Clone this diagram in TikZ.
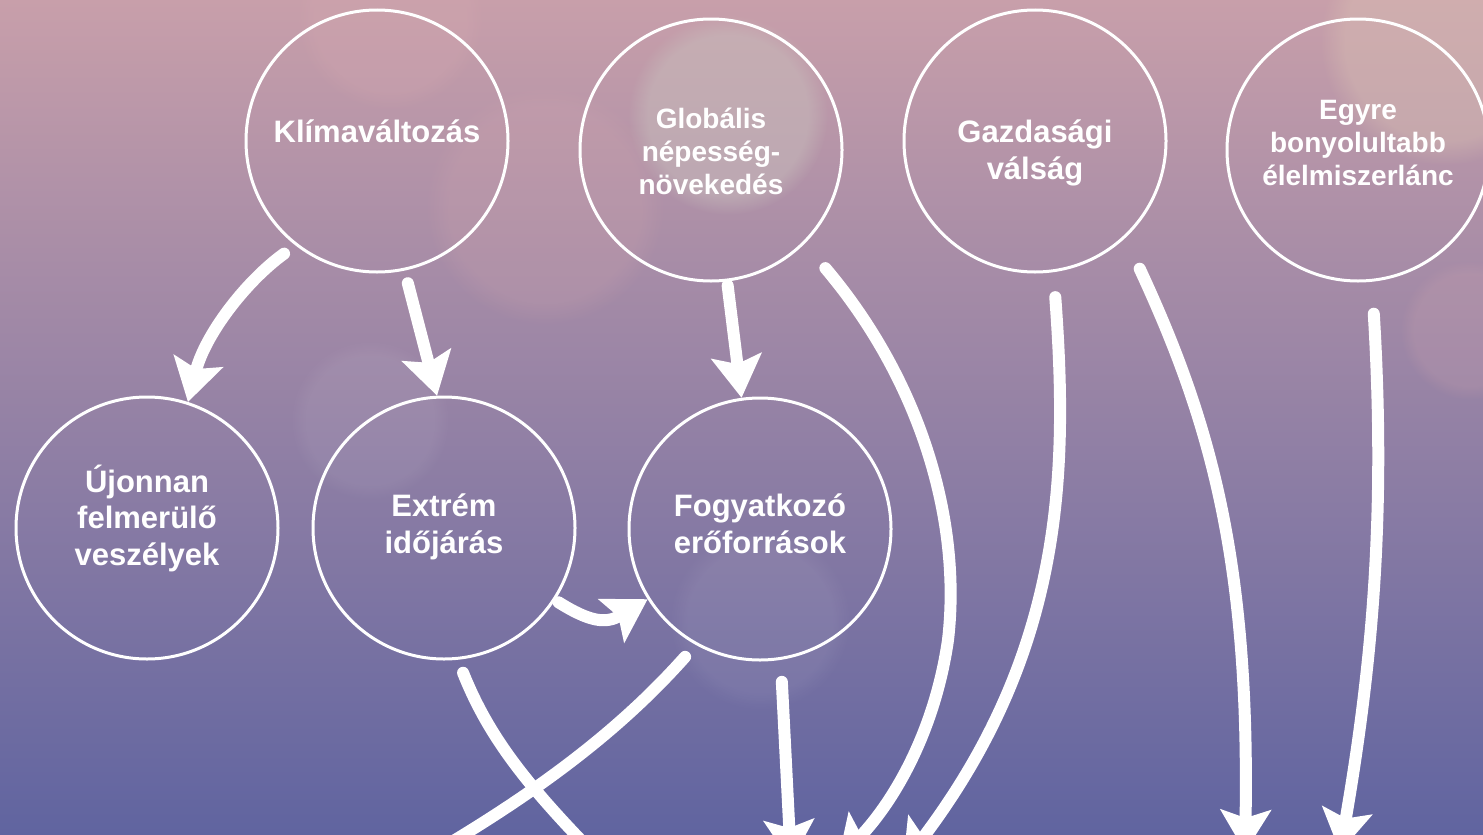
\documentclass[tikz,border=0pt]{standalone}
\usepackage{fontspec}
\setmainfont{Liberation Sans}
\usetikzlibrary{arrows.meta,fadings}
\definecolor{bgtop}{HTML}{C89FAA}
\definecolor{bgmid}{HTML}{A07EA4}
\definecolor{bgbot}{HTML}{6064A0}
\definecolor{bokehA}{HTML}{C8BEBC}
\definecolor{bokehB}{HTML}{D4A8B0}
\definecolor{bokehC}{HTML}{DCC4B4}
\begin{document}
\begin{tikzpicture}[x=0.5pt,y=-0.5pt,
  circ/.style={circle,draw=white,line width=1.5pt,minimum size=131pt,inner sep=0pt},
  lbl/.style={text=white,font=\bfseries\fontsize{15.5}{18.25}\selectfont,align=center,inner sep=0pt},
  lbls/.style={text=white,font=\bfseries\fontsize{14}{16.5}\selectfont,align=center,inner sep=0pt},
  arr/.style={draw=white,line width=6pt,line cap=round,-{Stealth[length=21pt,width=25pt,inset=4pt]}},
  plain/.style={draw=white,line width=6pt,line cap=round},
  bokeh/.style={path fading=circle with fuzzy edge 20 percent}]
\useasboundingbox (0,0) rectangle (1483,835);
\clip (0,0) rectangle (1483,835);
\shade[top color=bgtop,middle color=bgmid,bottom color=bgbot] (0,0) rectangle (1483,835);
% bokeh
\fill[bokeh,bokehA,opacity=0.5] (728,115) circle[radius=100];
\fill[bokeh,bokehB,opacity=0.22] (545,205) circle[radius=120];
\fill[bokeh,bokehC,opacity=0.4] (1445,40) circle[radius=125];
\fill[bokeh,bokehB,opacity=0.3] (390,15) circle[radius=95];
\fill[bokeh,white,opacity=0.06] (370,420) circle[radius=80];
\fill[bokeh,white,opacity=0.06] (760,620) circle[radius=90];
\fill[bokeh,bokehB,opacity=0.2] (1470,330) circle[radius=70];
% nodes
\node[circ] (K) at (377,141) {};
\node[circ] (G) at (711,150) {};
\node[circ] (Gz) at (1035,141) {};
\node[circ] (E) at (1358,150) {};
\node[circ] (U) at (147,528) {};
\node[circ] (X) at (444,528) {};
\node[circ] (F) at (760,529) {};
\node[lbl] (Kt) at (377,131) {Klímaváltozás};
\node[lbls] (Gt) at (711,151) {Globális\\népesség-\\növekedés};
\node[lbl] (Gzt) at (1035,153) {Gazdasági\\válság};
\node[lbls] (Et) at (1358,143) {Egyre\\bonyolultabb\\élelmiszerlánc};
\node[lbl] (Ut) at (147,518) {Újonnan\\felmerülő\\veszélyek};
\node[lbl] (Xt) at (444,527) {Extrém\\időjárás};
\node[lbl] (Ft) at (760,524) {Fogyatkozó\\erőforrások};
% free ends
\coordinate (c4) at (838,860);
\coordinate (c5) at (903,864);
\coordinate (c6) at (1245,852);
\coordinate (c7) at (1340,852);
\coordinate (c8) at (791,862);
\coordinate (c9) at (615,875);
\coordinate (c10) at (435,852);
% connectors
\draw[arr,shorten <=7pt] (K.232) .. controls (245,282) and (205,335) .. (U.72);
\draw[arr,shorten <=6.5pt] (K.282) -- (X.93);
\draw[arr,shorten <=2pt] (G.277) -- (F.98);
\draw[arr,shorten <=16pt] (G.315) .. controls (920,380) and (962,520) .. (948,640) .. controls (935,730) and (895,800) .. (c4);
\draw[arr,shorten <=12.5pt] (Gz.278) .. controls (1068,470) and (1065,650) .. (c5);
\draw[arr,shorten <=17pt] (Gz.313) .. controls (1210,420) and (1250,560) .. (c6);
\draw[arr,shorten <=16pt] (E.276) .. controls (1385,500) and (1375,650) .. (c7);
\draw[arr,shorten <=11pt] (F.279) -- (c8);
\draw[plain,shorten <=7pt] (X.276) .. controls (490,740) and (530,790) .. (c9);
\draw[plain,shorten <=8pt] (F.241) .. controls (620,730) and (540,790) .. (c10);
\draw[arr,shorten <=2pt] (X.327) .. controls (590,622) and (606,624) .. (F.212);
\end{tikzpicture}
\end{document}
